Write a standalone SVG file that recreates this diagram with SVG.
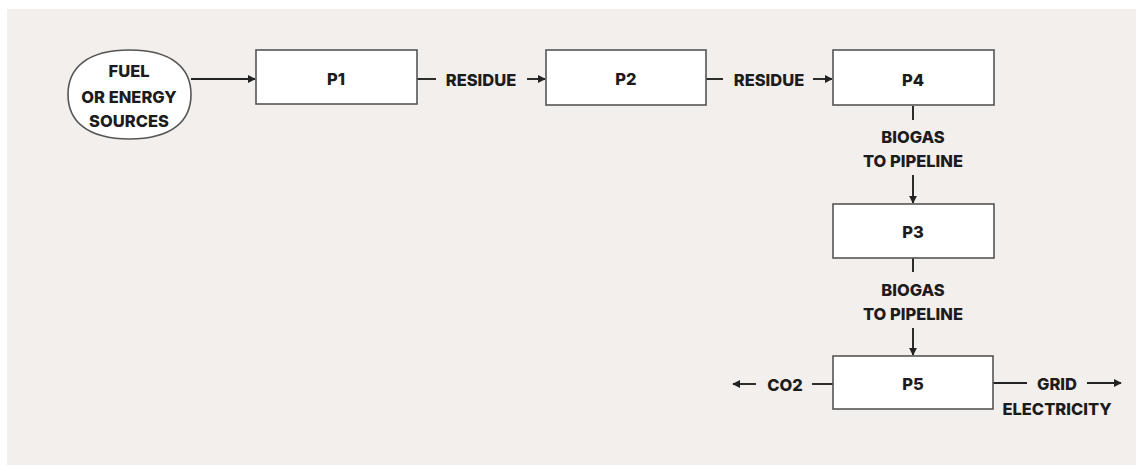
<svg xmlns="http://www.w3.org/2000/svg" width="1136" height="465" viewBox="0 0 1136 465">
<style>
.node{fill:#ffffff;stroke:#555555;stroke-width:1.6}
.t{font-family:Inter,"Liberation Sans",Arial,sans-serif;font-weight:800;font-size:16.5px;fill:#1c1c1c;text-anchor:middle;dominant-baseline:central}
.c{stroke:#222222;stroke-width:1.9;fill:none}
</style>
<defs>
<marker id="ah" viewBox="0 0 10 10" refX="9" refY="5" markerWidth="8" markerHeight="8" markerUnits="userSpaceOnUse" orient="auto">
<path d="M0,0 L10,5 L0,10 Z" fill="#222222"/>
</marker>
</defs>
<rect x="0" y="0" width="1136" height="465" fill="#ffffff"/>
<rect x="7" y="9" width="1129" height="456" fill="#f3efec"/>
<g id="connectors">
<line class="c" x1="191" y1="79" x2="255" y2="79" marker-end="url(#ah)"/>
<line class="c" x1="417" y1="79" x2="436" y2="79"/>
<line class="c" x1="527" y1="79" x2="545" y2="79" marker-end="url(#ah)"/>
<line class="c" x1="706" y1="79" x2="723" y2="79"/>
<line class="c" x1="813" y1="79" x2="832" y2="79" marker-end="url(#ah)"/>
<line class="c" x1="913" y1="106" x2="913" y2="120"/>
<line class="c" x1="913" y1="175" x2="913" y2="203" marker-end="url(#ah)"/>
<line class="c" x1="913" y1="258" x2="913" y2="272"/>
<line class="c" x1="913" y1="328" x2="913" y2="355" marker-end="url(#ah)"/>
<line class="c" x1="833" y1="384" x2="812" y2="384"/>
<line class="c" x1="756" y1="384" x2="733" y2="384" marker-end="url(#ah)"/>
<line class="c" x1="993" y1="383" x2="1027" y2="383"/>
<line class="c" x1="1087" y1="383" x2="1121" y2="383" marker-end="url(#ah)"/>
<text class="t" x="481" y="80">RESIDUE</text>
<text class="t" x="769" y="80">RESIDUE</text>
<text class="t" x="913" y="137">BIOGAS</text>
<text class="t" x="913" y="161">TO PIPELINE</text>
<text class="t" x="913" y="290">BIOGAS</text>
<text class="t" x="913" y="314">TO PIPELINE</text>
<text class="t" x="785" y="385">CO2</text>
<text class="t" x="1057" y="384">GRID</text>
<text class="t" x="1057" y="409">ELECTRICITY</text>
</g>
<g id="fuel">
<path class="node" d="M129.5,50 C172,50 191,68 191,94.5 C191,121 172,139 129.5,139 C87,139 68,121 68,94.5 C68,68 87,50 129.5,50 Z"/>
<text class="t" x="129" y="71">FUEL</text>
<text class="t" x="129" y="97">OR ENERGY</text>
<text class="t" x="129" y="121">SOURCES</text>
</g>
<g id="p1">
<rect class="node" x="256" y="50" width="161" height="54"/>
<text class="t" x="336" y="79">P1</text>
</g>
<g id="p2">
<rect class="node" x="546" y="50" width="160" height="55"/>
<text class="t" x="626" y="79">P2</text>
</g>
<g id="p4">
<rect class="node" x="833" y="50" width="161" height="55"/>
<text class="t" x="913" y="80">P4</text>
</g>
<g id="p3">
<rect class="node" x="833" y="204" width="161" height="54"/>
<text class="t" x="913" y="232">P3</text>
</g>
<g id="p5">
<rect class="node" x="833" y="356" width="160" height="53"/>
<text class="t" x="913" y="384">P5</text>
</g>
</svg>
